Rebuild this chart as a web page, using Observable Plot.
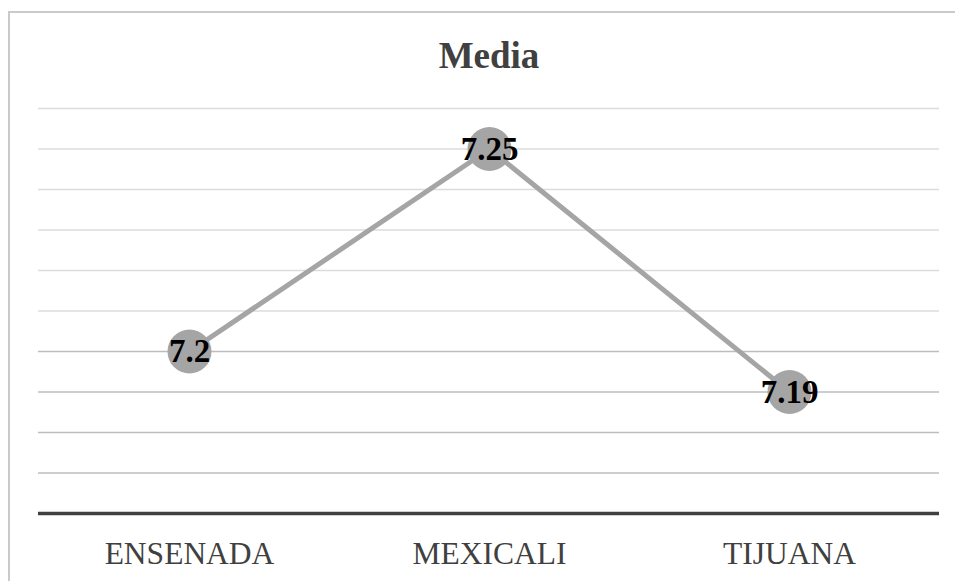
<!DOCTYPE html>
<html>
<head>
<meta charset="utf-8">
<script src="https://cdn.jsdelivr.net/npm/d3@7"></script>
<script src="https://cdn.jsdelivr.net/npm/@observablehq/plot@0.6"></script>
<style>
  html, body { margin: 0; padding: 0; background: #fff; }
  #wrap { position: relative; width: 955px; height: 581px; overflow: hidden; }
  #border { position: absolute; left: 8px; top: 11px; right: -10px; bottom: -10px;
            border-left: 2px solid #cacaca; border-top: 2px solid #cacaca; }
  #chart { position: absolute; left: 0; top: 0; }
</style>
</head>
<body>
<div id="wrap"><div id="border"></div><div id="chart"></div></div>
<script>
const title = "Media";
const categories = ["ENSENADA", "MEXICALI", "TIJUANA"];
const values = [7.2, 7.25, 7.19];
const labels = ["7.2", "7.25", "7.19"];
const gridLight = [7.21, 7.22, 7.23, 7.24, 7.25, 7.26];
const gridDark = [7.17, 7.18, 7.19, 7.20];
const baseline = [7.16];

const data = categories.map((c, i) => ({cat: c, v: values[i], label: labels[i]}));

const chart = Plot.plot({
  width: 955,
  height: 581,
  marginLeft: 38,
  marginRight: 16,
  marginTop: 108,
  marginBottom: 68,
  style: {fontFamily: "'Liberation Serif', 'Times New Roman', serif", background: "transparent", overflow: "visible"},
  x: {type: "point", domain: categories, padding: 0.5, label: null},
  y: {domain: [7.16, 7.26], axis: null},
  marks: [
    Plot.ruleY(gridLight, {stroke: "#dcdcdc", strokeWidth: 1.5}),
    Plot.ruleY(gridDark, {stroke: "#bdbdbd", strokeWidth: 1.5}),
    Plot.ruleY(baseline, {stroke: "#404040", strokeWidth: 3.5}),
    Plot.axisX({tickSize: 0, tickPadding: 28, fontSize: 31.5, color: "#404040", label: null}),
    Plot.line(data, {x: "cat", y: "v", stroke: "#a5a5a5", strokeWidth: 5}),
    Plot.dot(data, {x: "cat", y: "v", r: 22, fill: "#a5a5a5", stroke: "none"}),
    Plot.text(data, {x: "cat", y: "v", text: "label", fontSize: 33, fontWeight: "bold", fill: "#000"}),
    Plot.text([title], {text: d => d, frameAnchor: "top", dy: -67, fontSize: 37, fontWeight: "bold", fill: "#404040"})
  ]
});
document.getElementById("chart").appendChild(chart);
</script>
</body>
</html>
